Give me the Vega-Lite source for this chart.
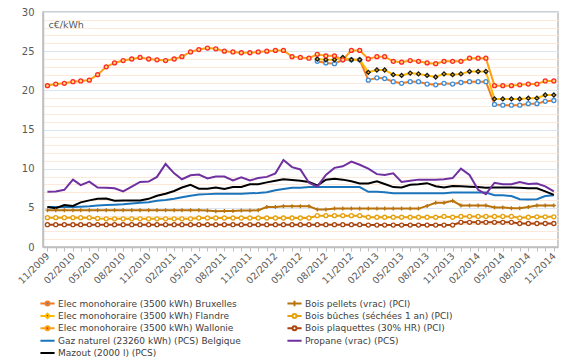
{
  "$schema": "https://vega.github.io/schema/vega-lite/v6.json",
  "width": 515,
  "height": 235,
  "autosize": {"type": "none"},
  "padding": {"left": 43, "top": 12, "right": 22, "bottom": 113},
  "background": "white",
  "config": {
    "font": "DejaVu Sans",
    "view": {"stroke": "#BFBFBF", "strokeWidth": 1.5}
  },
  "datasets": {
    "series": [
      {"key": "B", "series": "Elec monohoraire (3500 kWh) Bruxelles"},
      {"key": "F", "series": "Elec monohoraire (3500 kWh) Flandre"},
      {"key": "W", "series": "Elec monohoraire (3500 kWh) Wallonie"},
      {"key": "G", "series": "Gaz naturel (23260 kWh) (PCS) Belgique"},
      {"key": "M", "series": "Mazout (2000 l) (PCS)"},
      {"key": "PL", "series": "Bois pellets (vrac) (PCI)"},
      {"key": "BU", "series": "Bois bûches (séchées 1 an) (PCI)"},
      {"key": "PQ", "series": "Bois plaquettes (30% HR) (PCI)"},
      {"key": "PR", "series": "Propane (vrac) (PCS)"}
    ],
    "prices": [
      {"d": "2009-11-01", "W": 20.6, "G": 5.1, "M": 5.1, "PR": 7.04, "PL": 4.7, "BU": 3.75, "PQ": 2.85},
      {"d": "2009-12-01", "W": 20.8, "G": 5.1, "M": 4.95, "PR": 7.1, "PL": 4.7, "BU": 3.75, "PQ": 2.85},
      {"d": "2010-01-01", "W": 20.9, "G": 5.1, "M": 5.35, "PR": 7.3, "PL": 4.7, "BU": 3.75, "PQ": 2.85},
      {"d": "2010-02-01", "W": 21.1, "G": 5.1, "M": 5.25, "PR": 8.6, "PL": 4.7, "BU": 3.75, "PQ": 2.85},
      {"d": "2010-03-01", "W": 21.2, "G": 5.15, "M": 5.7, "PR": 7.9, "PL": 4.7, "BU": 3.75, "PQ": 2.85},
      {"d": "2010-04-01", "W": 21.3, "G": 5.2, "M": 5.95, "PR": 8.35, "PL": 4.7, "BU": 3.75, "PQ": 2.85},
      {"d": "2010-05-01", "W": 22.0, "G": 5.3, "M": 6.15, "PR": 7.6, "PL": 4.7, "BU": 3.65, "PQ": 2.85},
      {"d": "2010-06-01", "W": 23.0, "G": 5.35, "M": 6.2, "PR": 7.55, "PL": 4.7, "BU": 3.6, "PQ": 2.85},
      {"d": "2010-07-01", "W": 23.5, "G": 5.4, "M": 5.9, "PR": 7.5, "PL": 4.7, "BU": 3.6, "PQ": 2.85},
      {"d": "2010-08-01", "W": 23.8, "G": 5.45, "M": 5.95, "PR": 7.1, "PL": 4.7, "BU": 3.6, "PQ": 2.85},
      {"d": "2010-09-01", "W": 24.0, "G": 5.55, "M": 5.95, "PR": 7.7, "PL": 4.7, "BU": 3.6, "PQ": 2.85},
      {"d": "2010-10-01", "W": 24.2, "G": 5.65, "M": 5.95, "PR": 8.3, "PL": 4.7, "BU": 3.6, "PQ": 2.85},
      {"d": "2010-11-01", "W": 24.0, "G": 5.7, "M": 6.15, "PR": 8.35, "PL": 4.7, "BU": 3.6, "PQ": 2.85},
      {"d": "2010-12-01", "W": 23.9, "G": 5.9, "M": 6.55, "PR": 8.95, "PL": 4.7, "BU": 3.6, "PQ": 2.85},
      {"d": "2011-01-01", "W": 23.8, "G": 6.0, "M": 6.8, "PR": 10.6, "PL": 4.7, "BU": 3.6, "PQ": 2.85},
      {"d": "2011-02-01", "W": 24.0, "G": 6.15, "M": 7.15, "PR": 9.4, "PL": 4.7, "BU": 3.6, "PQ": 2.85},
      {"d": "2011-03-01", "W": 24.3, "G": 6.35, "M": 7.6, "PR": 8.65, "PL": 4.7, "BU": 3.6, "PQ": 2.85},
      {"d": "2011-04-01", "W": 24.9, "G": 6.55, "M": 7.95, "PR": 9.15, "PL": 4.7, "BU": 3.6, "PQ": 2.85},
      {"d": "2011-05-01", "W": 25.2, "G": 6.7, "M": 7.45, "PR": 9.25, "PL": 4.7, "BU": 3.7, "PQ": 2.85},
      {"d": "2011-06-01", "W": 25.4, "G": 6.75, "M": 7.45, "PR": 8.75, "PL": 4.65, "BU": 3.7, "PQ": 2.85},
      {"d": "2011-07-01", "W": 25.3, "G": 6.8, "M": 7.6, "PR": 9.0, "PL": 4.55, "BU": 3.7, "PQ": 2.85},
      {"d": "2011-08-01", "W": 25.0, "G": 6.8, "M": 7.4, "PR": 9.0, "PL": 4.6, "BU": 3.7, "PQ": 2.85},
      {"d": "2011-09-01", "W": 24.9, "G": 6.8, "M": 7.65, "PR": 8.5, "PL": 4.6, "BU": 3.7, "PQ": 2.85},
      {"d": "2011-10-01", "W": 24.8, "G": 6.8, "M": 7.65, "PR": 8.9, "PL": 4.65, "BU": 3.7, "PQ": 2.85},
      {"d": "2011-11-01", "W": 24.8, "G": 6.85, "M": 8.0, "PR": 8.5, "PL": 4.65, "BU": 3.7, "PQ": 2.85},
      {"d": "2011-12-01", "W": 24.9, "G": 6.9, "M": 8.0, "PR": 8.8, "PL": 4.7, "BU": 3.7, "PQ": 2.85},
      {"d": "2012-01-01", "W": 25.0, "G": 7.0, "M": 8.25, "PR": 8.95, "PL": 5.1, "BU": 3.7, "PQ": 2.85},
      {"d": "2012-02-01", "W": 25.1, "G": 7.25, "M": 8.45, "PR": 9.4, "PL": 5.1, "BU": 3.7, "PQ": 2.85},
      {"d": "2012-03-01", "W": 25.1, "G": 7.4, "M": 8.65, "PR": 11.1, "PL": 5.2, "BU": 3.7, "PQ": 2.85},
      {"d": "2012-04-01", "W": 24.3, "G": 7.55, "M": 8.55, "PR": 10.2, "PL": 5.2, "BU": 3.7, "PQ": 2.85},
      {"d": "2012-05-01", "W": 24.2, "G": 7.55, "M": 8.45, "PR": 9.9, "PL": 5.2, "BU": 3.7, "PQ": 2.85},
      {"d": "2012-06-01", "W": 24.1, "G": 7.65, "M": 8.3, "PR": 8.2, "PL": 5.2, "BU": 3.7, "PQ": 2.85},
      {"d": "2012-07-01", "W": 24.6, "F": 24.0, "B": 23.7, "G": 7.65, "M": 7.85, "PR": 7.7, "PL": 4.8, "BU": 4.0, "PQ": 2.85},
      {"d": "2012-08-01", "W": 24.4, "F": 23.9, "B": 23.5, "G": 7.65, "M": 8.6, "PR": 9.2, "PL": 4.8, "BU": 4.0, "PQ": 2.85},
      {"d": "2012-09-01", "W": 24.4, "F": 23.9, "B": 23.4, "G": 7.65, "M": 8.7, "PR": 10.1, "PL": 4.9, "BU": 4.0, "PQ": 2.85},
      {"d": "2012-10-01", "W": 23.9, "F": 24.2, "B": 23.9, "G": 7.65, "M": 8.6, "PR": 10.3, "PL": 4.9, "BU": 4.0, "PQ": 2.85},
      {"d": "2012-11-01", "W": 25.1, "F": 23.9, "B": 23.9, "G": 7.65, "M": 8.4, "PR": 10.9, "PL": 4.9, "BU": 4.0, "PQ": 2.85},
      {"d": "2012-12-01", "W": 25.1, "F": 23.9, "B": 23.9, "G": 7.65, "M": 8.1, "PR": 10.5, "PL": 4.9, "BU": 4.0, "PQ": 2.85},
      {"d": "2013-01-01", "W": 24.0, "F": 22.3, "B": 21.3, "G": 7.05, "M": 8.1, "PR": 10.0, "PL": 4.9, "BU": 3.8, "PQ": 2.8},
      {"d": "2013-02-01", "W": 24.3, "F": 22.6, "B": 21.6, "G": 7.05, "M": 8.4, "PR": 9.3, "PL": 4.9, "BU": 3.8, "PQ": 2.8},
      {"d": "2013-03-01", "W": 24.3, "F": 22.6, "B": 21.5, "G": 7.0, "M": 8.05, "PR": 9.2, "PL": 4.9, "BU": 3.8, "PQ": 2.8},
      {"d": "2013-04-01", "W": 23.7, "F": 22.0, "B": 21.1, "G": 6.85, "M": 7.65, "PR": 9.4, "PL": 4.9, "BU": 3.8, "PQ": 2.8},
      {"d": "2013-05-01", "W": 23.6, "F": 21.9, "B": 20.9, "G": 6.85, "M": 7.6, "PR": 8.3, "PL": 4.9, "BU": 3.8, "PQ": 2.8},
      {"d": "2013-06-01", "W": 23.8, "F": 22.2, "B": 21.1, "G": 6.85, "M": 7.95, "PR": 8.45, "PL": 4.9, "BU": 3.8, "PQ": 2.8},
      {"d": "2013-07-01", "W": 23.7, "F": 22.1, "B": 21.1, "G": 6.85, "M": 8.0, "PR": 8.6, "PL": 4.9, "BU": 3.8, "PQ": 2.8},
      {"d": "2013-08-01", "W": 23.5, "F": 21.9, "B": 20.8, "G": 6.85, "M": 8.15, "PR": 8.6, "PL": 5.25, "BU": 3.8, "PQ": 2.8},
      {"d": "2013-09-01", "W": 23.4, "F": 21.7, "B": 20.7, "G": 6.85, "M": 7.75, "PR": 8.6, "PL": 5.65, "BU": 3.8, "PQ": 2.8},
      {"d": "2013-10-01", "W": 23.7, "F": 22.1, "B": 20.9, "G": 6.85, "M": 7.6, "PR": 8.65, "PL": 5.65, "BU": 3.9, "PQ": 2.8},
      {"d": "2013-11-01", "W": 23.7, "F": 22.0, "B": 20.8, "G": 6.95, "M": 7.8, "PR": 8.8, "PL": 5.9, "BU": 3.8, "PQ": 2.8},
      {"d": "2013-12-01", "W": 23.7, "F": 22.1, "B": 21.0, "G": 6.95, "M": 7.75, "PR": 10.0, "PL": 5.3, "BU": 3.9, "PQ": 3.15},
      {"d": "2014-01-01", "W": 24.1, "F": 22.4, "B": 21.1, "G": 6.95, "M": 7.7, "PR": 9.2, "PL": 5.3, "BU": 3.9, "PQ": 3.15},
      {"d": "2014-02-01", "W": 24.1, "F": 22.4, "B": 21.1, "G": 6.95, "M": 7.65, "PR": 7.3, "PL": 5.3, "BU": 3.9, "PQ": 3.15},
      {"d": "2014-03-01", "W": 24.1, "F": 22.4, "B": 21.1, "G": 6.95, "M": 7.55, "PR": 6.75, "PL": 5.3, "BU": 3.9, "PQ": 3.15},
      {"d": "2014-04-01", "W": 20.6, "F": 18.9, "B": 18.2, "G": 6.6, "M": 7.6, "PR": 8.2, "PL": 5.05, "BU": 3.9, "PQ": 3.15},
      {"d": "2014-05-01", "W": 20.6, "F": 18.9, "B": 18.1, "G": 6.6, "M": 7.6, "PR": 8.0, "PL": 5.05, "BU": 3.9, "PQ": 3.15},
      {"d": "2014-06-01", "W": 20.6, "F": 18.9, "B": 18.1, "G": 6.5, "M": 7.6, "PR": 8.0, "PL": 4.95, "BU": 3.9, "PQ": 3.15},
      {"d": "2014-07-01", "W": 20.7, "F": 18.9, "B": 18.1, "G": 6.1, "M": 7.55, "PR": 8.3, "PL": 4.95, "BU": 3.7, "PQ": 3.0},
      {"d": "2014-08-01", "W": 20.8, "F": 19.0, "B": 18.3, "G": 6.05, "M": 7.5, "PR": 8.05, "PL": 5.1, "BU": 3.8, "PQ": 3.0},
      {"d": "2014-09-01", "W": 20.8, "F": 19.0, "B": 18.3, "G": 6.1, "M": 7.5, "PR": 8.1, "PL": 5.3, "BU": 3.85, "PQ": 3.0},
      {"d": "2014-10-01", "W": 21.2, "F": 19.4, "B": 18.6, "G": 6.5, "M": 7.1, "PR": 7.75, "PL": 5.3, "BU": 3.85, "PQ": 3.0},
      {"d": "2014-11-01", "W": 21.2, "F": 19.4, "B": 18.7, "G": 6.6, "M": 6.65, "PR": 7.1, "PL": 5.3, "BU": 3.85, "PQ": 3.0}
    ]
  },
  "data": {"name": "prices"},
  "transform": [
    {"fold": ["PQ", "BU", "PL", "G", "M", "PR", "B", "F", "W"], "as": ["key", "value"]},
    {"lookup": "key", "from": {"data": {"name": "series"}, "key": "key", "fields": ["series"]}}
  ],
  "encoding": {
    "x": {
      "field": "d",
      "type": "temporal",
      "scale": {
        "type": "utc",
        "domain": [
          {"year": 2009, "month": 10, "date": 16, "utc": true},
          {"year": 2014, "month": 11, "date": 16, "utc": true}
        ]
      },
      "axis": {
        "title": null,
        "grid": false,
        "tickCount": {"interval": "month", "step": 1},
        "labelExpr": "utcmonth(datum.value) % 3 == 1 ? utcFormat(datum.value, '%m/%Y') : ''",
        "labelOverlap": false,
        "labelFlush": false,
        "labelBound": false,
        "labelAngle": -45,
        "labelAlign": "right",
        "labelBaseline": "middle",
        "labelPadding": 3,
        "labelFontSize": 9.5,
        "labelColor": "#595959",
        "tickColor": "#BFBFBF",
        "tickSize": 4,
        "domainColor": "#BFBFBF",
        "domainWidth": 1.5
      }
    },
    "y": {
      "field": "value",
      "type": "quantitative",
      "scale": {"domain": [0, 30], "nice": false},
      "axis": {
        "title": "c€/kWh",
        "titleAngle": 0,
        "titleAlign": "left",
        "titleBaseline": "middle",
        "titleX": 5,
        "titleY": 12,
        "titleFontWeight": "normal",
        "titleFontSize": 9.5,
        "titleColor": "#595959",
        "values": [0,1,2,3,4,5,6,7,8,9,10,11,12,13,14,15,16,17,18,19,20,21,22,23,24,25,26,27,28,29,30],
        "labelExpr": "datum.value % 5 == 0 ? datum.label : ''",
        "labelFontSize": 10,
        "labelColor": "#595959",
        "labelPadding": 9,
        "ticks": false,
        "domainColor": "#BFBFBF",
        "domainWidth": 1.5,
        "gridColor": {"condition": {"test": "datum.value % 5 == 0", "value": "#DCE6F1"}, "value": "#FCE9DA"},
        "gridWidth": 1
      }
    }
  },
  "layer": [
    {
      "mark": {"type": "line", "strokeWidth": 2},
      "encoding": {
        "color": {
          "field": "series",
          "type": "nominal",
          "scale": {
            "domain": [
              "Elec monohoraire (3500 kWh) Bruxelles",
              "Elec monohoraire (3500 kWh) Flandre",
              "Elec monohoraire (3500 kWh) Wallonie",
              "Gaz naturel (23260 kWh) (PCS) Belgique",
              "Mazout (2000 l) (PCS)",
              "Bois pellets (vrac) (PCI)",
              "Bois bûches (séchées 1 an) (PCI)",
              "Bois plaquettes (30% HR) (PCI)",
              "Propane (vrac) (PCS)"
            ],
            "range": ["#F47B20", "#FFBA00", "#FFA010", "#1B75BC", "#000000", "#B8730F", "#E6A10E", "#A9440F", "#7030A0"]
          },
          "legend": {
            "title": null,
            "orient": "none",
            "legendX": -4,
            "legendY": 286.5,
            "columns": 2,
            "columnPadding": 45,
            "rowPadding": 2.4,
            "clipHeight": 10,
            "symbolSize": 200,
            "symbolStrokeWidth": 2,
            "labelFontSize": 9,
            "labelColor": "#404040",
            "labelOffset": 2,
            "labelLimit": 0,
            "encode": {
              "symbols": {
                "update": {
                  "shape": {"signal": "indexof(['Elec monohoraire (3500 kWh) Bruxelles','Elec monohoraire (3500 kWh) Wallonie','Bois bûches (séchées 1 an) (PCI)','Bois plaquettes (30% HR) (PCI)'], datum.value) >= 0 ? 'M-1,0H-0.28M0.28,0H1M-0.28,0A0.28,0.28,0,1,0,0.28,0A0.28,0.28,0,1,0,-0.28,0Z' : datum.value == 'Elec monohoraire (3500 kWh) Flandre' ? 'M-1,0H-0.3M0.3,0H1M-0.3,0L0,-0.3L0.3,0L0,0.3Z' : datum.value == 'Bois pellets (vrac) (PCI)' ? 'M-1,0H1M0,-0.4V0.4' : 'M-1,0H1'"},
                  "fill": {"signal": "datum.value == 'Elec monohoraire (3500 kWh) Bruxelles' ? '#3C8DD8' : datum.value == 'Elec monohoraire (3500 kWh) Flandre' ? '#1A1A1A' : datum.value == 'Elec monohoraire (3500 kWh) Wallonie' ? '#FF2A2A' : '#FFFFFF'"},
                  "fillOpacity": {"value": 1}
                }
              }
            }
          }
        }
      }
    },
    {
      "transform": [{"filter": {"field": "key", "oneOf": ["B", "F", "W", "PL", "BU", "PQ"]}}],
      "mark": {"type": "point", "size": 16, "strokeWidth": 1.3, "opacity": 1, "fillOpacity": 1},
      "encoding": {
        "stroke": {
          "field": "key",
          "type": "nominal",
          "scale": {"domain": ["B", "F", "W", "PL", "BU", "PQ"], "range": ["#3C8DD8", "#1A1A1A", "#FF2A2A", "#B8730F", "#E6A10E", "#A9440F"]},
          "legend": null
        },
        "fill": {
          "field": "key",
          "type": "nominal",
          "scale": {"domain": ["B", "F", "W", "PL", "BU", "PQ"], "range": ["#FFFFFF", "#FFC000", "#FFE070", "#B8730F", "#FFFFFF", "#FFFFFF"]},
          "legend": null
        },
        "shape": {
          "field": "key",
          "type": "nominal",
          "scale": {"domain": ["B", "F", "W", "PL", "BU", "PQ"], "range": ["circle", "diamond", "circle", "M-1,0H1M0,-1V1", "circle", "circle"]},
          "legend": null
        }
      }
    }
  ]
}
